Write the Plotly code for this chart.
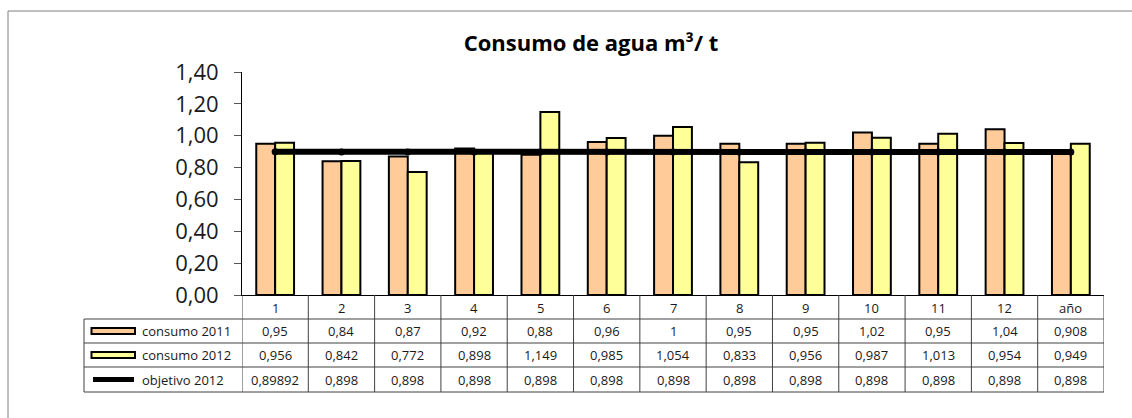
import plotly.graph_objects as go

categories = ["1", "2", "3", "4", "5", "6", "7", "8", "9", "10", "11", "12", "año"]
consumo_2011 = [0.95, 0.84, 0.87, 0.92, 0.88, 0.96, 1, 0.95, 0.95, 1.02, 0.95, 1.04, 0.908]
consumo_2012 = [0.956, 0.842, 0.772, 0.898, 1.149, 0.985, 1.054, 0.833, 0.956, 0.987, 1.013, 0.954, 0.949]
objetivo_2012 = [0.89892, 0.898, 0.898, 0.898, 0.898, 0.898, 0.898, 0.898, 0.898, 0.898, 0.898, 0.898, 0.898]
series_names = ["consumo 2011", "consumo 2012", "objetivo 2012"]
y_ticks = [0, 0.2, 0.4, 0.6, 0.8, 1.0, 1.2, 1.4]
title_text = "Consumo de agua m³/ t"

FONT = "Open Sans"
ORANGE = "#FFCC99"
YELLOW = "#FFFF99"
GRID = "#404040"
TXT = "#1a1a1a"

# figure / plot-area geometry in pixels
FW, FH = 1132, 418
L, R, T, B = 242, 1104, 72, 295
W, H = R - L, B - T


def px(x):
    return (x - L) / W


def py(y):
    return (B - y) / H


n = len(categories)
xi = list(range(n))

fig = go.Figure()
fig.add_trace(go.Bar(x=xi, y=consumo_2011, name=series_names[0],
                     marker=dict(color=ORANGE, line=dict(color="black", width=2)),
                     showlegend=False))
fig.add_trace(go.Bar(x=xi, y=consumo_2012, name=series_names[1],
                     marker=dict(color=YELLOW, line=dict(color="black", width=2)),
                     showlegend=False))
fig.add_trace(go.Scatter(x=xi, y=objetivo_2012, name=series_names[2], mode="lines+markers",
                         line=dict(color="black", width=6),
                         marker=dict(color="black", size=7),
                         showlegend=False))

shapes = []
annotations = []

# outer chart border (left and top visible)
shapes.append(dict(type="line", xref="paper", yref="paper", x0=px(8), x1=px(8), y0=py(11), y1=py(430),
                   line=dict(color="#808080", width=1)))
shapes.append(dict(type="line", xref="paper", yref="paper", x0=px(8), x1=px(1140), y0=py(11), y1=py(11),
                   line=dict(color="#808080", width=1)))

# data table grid
row_lines = [319, 343, 367, 392]
for yy in row_lines:
    shapes.append(dict(type="line", xref="paper", yref="paper", x0=px(84), x1=px(R), y0=py(yy), y1=py(yy),
                       line=dict(color=GRID, width=1)))
for i in range(n + 1):
    shapes.append(dict(type="line", xref="x", yref="paper", x0=i - 0.5, x1=i - 0.5, y0=py(B), y1=py(392),
                       line=dict(color=GRID, width=1)))
shapes.append(dict(type="line", xref="paper", yref="paper", x0=px(84), x1=px(84), y0=py(319), y1=py(392),
                   line=dict(color=GRID, width=1)))

# category labels row
for i, c in enumerate(categories):
    annotations.append(dict(x=i, y=py(307.5), xref="x", yref="paper", text=c, showarrow=False,
                            font=dict(family=FONT, size=13, color=TXT), xanchor="center", yanchor="middle"))

# value rows
row_centers = [331, 355, 379.5]
for series, yc in zip([consumo_2011, consumo_2012, objetivo_2012], row_centers):
    for i, v in enumerate(series):
        annotations.append(dict(x=i, y=py(yc), xref="x", yref="paper", text=f"{v:g}".replace(".", ","),
                                showarrow=False, font=dict(family=FONT, size=13, color=TXT),
                                xanchor="center", yanchor="middle"))

# legend keys in the table
for name, yc, col in zip(series_names[:2], row_centers[:2], [ORANGE, YELLOW]):
    shapes.append(dict(type="rect", xref="paper", yref="paper", x0=px(91.5), x1=px(135), y0=py(yc - 3),
                       y1=py(yc + 3), fillcolor=col, line=dict(color="black", width=2)))
shapes.append(dict(type="line", xref="paper", yref="paper", x0=px(93), x1=px(134), y0=py(row_centers[2]),
                   y1=py(row_centers[2]), line=dict(color="black", width=5)))
for name, yc in zip(series_names, row_centers):
    annotations.append(dict(x=px(140), y=py(yc), xref="paper", yref="paper", text=name, showarrow=False,
                            font=dict(family=FONT, size=13, color=TXT), xanchor="left", yanchor="middle"))

fig.update_layout(
    width=FW, height=FH,
    margin=dict(l=L, r=FW - R, t=T, b=FH - B, pad=0),
    paper_bgcolor="white", plot_bgcolor="white",
    separators=",.",
    barmode="group", bargap=0.43, bargroupgap=0,
    title=dict(text=f"<b>{title_text}</b>", x=591 / FW, xref="container",
               xanchor="center", y=1 - 43 / FH, yanchor="middle",
               font=dict(family=FONT, size=22, color="black")),
    xaxis=dict(range=[-0.5, n - 0.5], showticklabels=False, ticks="", showgrid=False, zeroline=False,
               showline=True, linecolor="black", linewidth=1),
    yaxis=dict(range=[0, 1.4], tickvals=y_ticks, tickformat=".2f", ticks="outside", ticklen=7,
               tickcolor="#555", tickwidth=1, showgrid=False, zeroline=False,
               showline=True, linecolor="black", linewidth=1, ticklabelstandoff=11,
               tickfont=dict(family=FONT, size=22, color=TXT)),
    shapes=shapes, annotations=annotations,
)

fig.write_html("out.html", post_script="document.body.style.margin='0';",
               config={"displayModeBar": False})
